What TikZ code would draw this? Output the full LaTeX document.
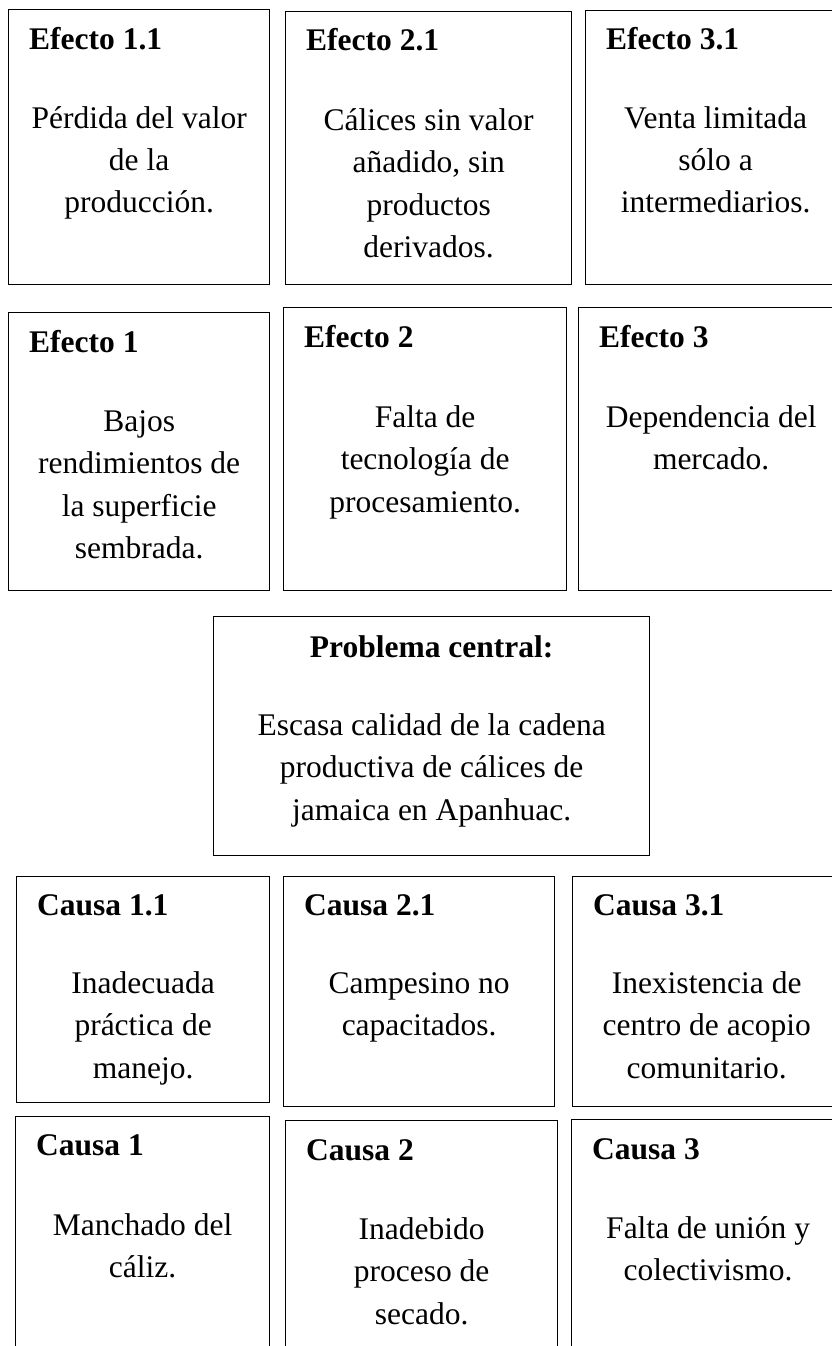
\documentclass[tikz,border=0pt]{standalone}
\usepackage{fontspec}
\setmainfont{Liberation Serif}
\usepackage{tikz}

% lineas centradas, la linea base es la de la primera linea
\newcommand{\lineas}[1]{\begin{tabular}[t]{@{}c@{}}#1\end{tabular}}

\tikzset{
    caja/.style={draw, line width=1.3pt, rectangle, anchor=north west, inner sep=0pt},
    titulo/.style={font=\fontsize{31.5}{42.5}\selectfont\bfseries, anchor=base west, inner sep=0pt},
    texto/.style={font=\fontsize{31.5}{42.5}\selectfont, anchor=base, inner sep=0pt}
}

\begin{document}
\begin{tikzpicture}[x=1pt, y=-1pt]
    \clip (0,0) rectangle (832,1346);

    % Efectos x.1
    \node [caja, minimum width=261, minimum height=275] (e11) at (8,9)   {};
    \node [caja, minimum width=286, minimum height=273] (e21) at (285,11) {};
    \node [caja, minimum width=260, minimum height=274] (e31) at (585,10) {};
    \node [titulo] (e11t) at ([shift={(21,40)}]e11.north west) {Efecto 1.1};
    \node [titulo] (e21t) at ([shift={(21,40)}]e21.north west) {Efecto 2.1};
    \node [titulo] (e31t) at ([shift={(21,40)}]e31.north west) {Efecto 3.1};
    \node [texto]  (e11b) at ([shift={(0,119)}]e11.north) {\lineas{Pérdida del valor\\de la\\producción.}};
    \node [texto]  (e21b) at ([shift={(0,119)}]e21.north) {\lineas{Cálices sin valor\\añadido, sin\\productos\\derivados.}};
    \node [texto]  (e31b) at ([shift={(0,118)}]e31.north) {\lineas{Venta limitada\\sólo a\\intermediarios.}};

    % Efectos
    \node [caja, minimum width=261, minimum height=278] (e1) at (8,312)   {};
    \node [caja, minimum width=283, minimum height=283] (e2) at (283,307) {};
    \node [caja, minimum width=265, minimum height=283] (e3) at (578,307) {};
    \node [titulo] (e1t) at ([shift={(21,40)}]e1.north west) {Efecto 1};
    \node [titulo] (e2t) at ([shift={(21,40)}]e2.north west) {Efecto 2};
    \node [titulo] (e3t) at ([shift={(21,40)}]e3.north west) {Efecto 3};
    \node [texto]  (e1b) at ([shift={(0,119)}]e1.north) {\lineas{Bajos\\rendimientos de\\la superficie\\sembrada.}};
    \node [texto]  (e2b) at ([shift={(0,120)}]e2.north) {\lineas{Falta de\\tecnología de\\procesamiento.}};
    \node [texto]  (e3b) at ([shift={(0,120)}]e3.north) {\lineas{Dependencia del\\mercado.}};

    % Problema central
    \node [caja, minimum width=436, minimum height=239] (pc) at (213,616) {};
    \node [titulo, anchor=base] (pct) at ([shift={(0,41)}]pc.north) {Problema central:};
    \node [texto] (pcb) at ([shift={(0,119)}]pc.north) {\lineas{Escasa calidad de la cadena\\productiva de cálices de\\jamaica en Apanhuac.}};

    % Causas x.1
    \node [caja, minimum width=253, minimum height=226] (c11) at (16,876)  {};
    \node [caja, minimum width=271, minimum height=230] (c21) at (283,876) {};
    \node [caja, minimum width=268, minimum height=230] (c31) at (572,876) {};
    \node [titulo] (c11t) at ([shift={(21,39)}]c11.north west) {Causa 1.1};
    \node [titulo] (c21t) at ([shift={(21,39)}]c21.north west) {Causa 2.1};
    \node [titulo] (c31t) at ([shift={(21,39)}]c31.north west) {Causa 3.1};
    \node [texto]  (c11b) at ([shift={(0,117)}]c11.north) {\lineas{Inadecuada\\práctica de\\manejo.}};
    \node [texto]  (c21b) at ([shift={(0,117)}]c21.north) {\lineas{Campesino no\\capacitados.}};
    \node [texto]  (c31b) at ([shift={(0,117)}]c31.north) {\lineas{Inexistencia de\\centro de acopio\\comunitario.}};

    % Causas
    \node [caja, minimum width=254, minimum height=260] (c1) at (15,1116)  {};
    \node [caja, minimum width=272, minimum height=260] (c2) at (285,1120) {};
    \node [caja, minimum width=273, minimum height=260] (c3) at (571,1119) {};
    \node [titulo] (c1t) at ([shift={(21,39)}]c1.north west) {Causa 1};
    \node [titulo] (c2t) at ([shift={(21,40)}]c2.north west) {Causa 2};
    \node [titulo] (c3t) at ([shift={(21,40)}]c3.north west) {Causa 3};
    \node [texto]  (c1b) at ([shift={(0,119)}]c1.north) {\lineas{Manchado del\\cáliz.}};
    \node [texto]  (c2b) at ([shift={(0,119)}]c2.north) {\lineas{Inadebido\\proceso de\\secado.}};
    \node [texto]  (c3b) at ([shift={(0,119)}]c3.north) {\lineas{Falta de unión y\\colectivismo.}};
\end{tikzpicture}
\end{document}
